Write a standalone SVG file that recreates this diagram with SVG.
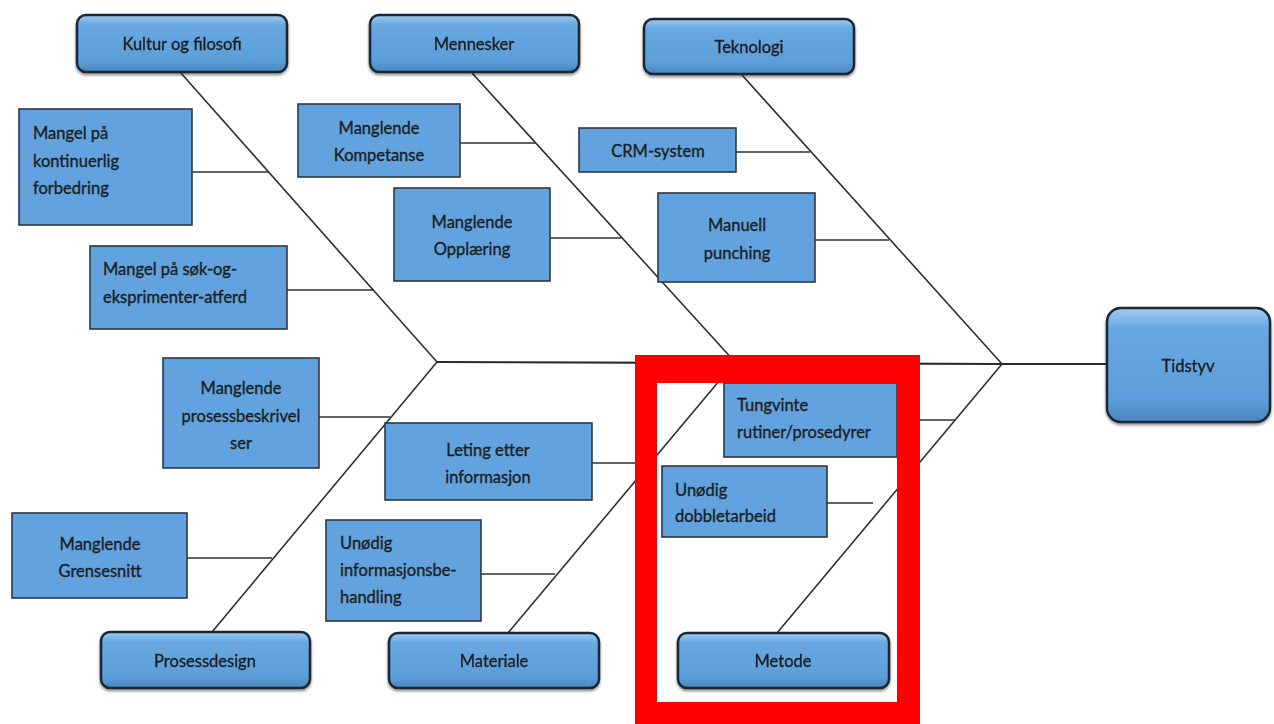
<svg xmlns="http://www.w3.org/2000/svg" width="1274" height="724" viewBox="0 0 1274 724">
  <defs>
    <linearGradient id="catFill" x1="0" y1="0" x2="0" y2="1">
      <stop offset="0" stop-color="#9fcbf2"/>
      <stop offset="0.18" stop-color="#68a8e2"/>
      <stop offset="0.8" stop-color="#5c9ed9"/>
      <stop offset="1" stop-color="#4a86bd"/>
    </linearGradient>
    <filter id="shadow" x="-10%" y="-10%" width="125%" height="135%">
      <feGaussianBlur in="SourceAlpha" stdDeviation="1.5"/>
      <feOffset dx="0" dy="2" result="off"/>
      <feComponentTransfer><feFuncA type="linear" slope="0.45"/></feComponentTransfer>
      <feMerge><feMergeNode/><feMergeNode in="SourceGraphic"/></feMerge>
    </filter>
  </defs>
  <style>
    .cat rect { fill: url(#catFill); stroke: #1d2630; stroke-width: 2.5; }
    .cause rect { fill: #62a3df; stroke: #2d3844; stroke-width: 1.6; }
    text { font-family: Lato, "Open Sans", "Liberation Sans", sans-serif; font-size: 16.5px; fill: #1b1f24; stroke: #1b1f24; stroke-width: 0.35; }
    .mid { text-anchor: middle; }
    .bone { stroke: #2f2f2f; stroke-width: 1.6; fill: none; }
    .spine { stroke: #2a2a2a; stroke-width: 2.2; fill: none; }
  </style>

  <rect width="1274" height="724" fill="#ffffff"/>

  <!-- fishbone skeleton -->
  <g id="connectors">
    <polyline class="spine" points="437,362 1002,364 1107,364"/>
    <line class="bone" x1="180" y1="72" x2="437" y2="362"/>
    <line class="bone" x1="212" y1="632" x2="437" y2="362"/>
    <line class="bone" x1="472" y1="73" x2="735" y2="362"/>
    <line class="bone" x1="508" y1="633" x2="735" y2="362"/>
    <line class="bone" x1="742" y1="75" x2="1002" y2="364"/>
    <line class="bone" x1="777" y1="633" x2="1002" y2="364"/>
    <!-- cause ribs -->
    <line class="bone" x1="190" y1="172" x2="268" y2="172"/>
    <line class="bone" x1="285" y1="290" x2="374" y2="290"/>
    <line class="bone" x1="318" y1="417" x2="390" y2="417"/>
    <line class="bone" x1="590" y1="463" x2="651" y2="463"/>
    <line class="bone" x1="186" y1="558" x2="272" y2="558"/>
    <line class="bone" x1="480" y1="574" x2="555" y2="574"/>
    <line class="bone" x1="458" y1="143" x2="535" y2="143"/>
    <line class="bone" x1="548" y1="238" x2="621" y2="238"/>
    <line class="bone" x1="733" y1="152" x2="810" y2="152"/>
    <line class="bone" x1="812" y1="240" x2="889" y2="240"/>
    <line class="bone" x1="897" y1="420" x2="955" y2="420"/>
    <line class="bone" x1="825" y1="503" x2="873" y2="503"/>
  </g>

  <!-- category heads -->
  <g id="kultur" class="cat" filter="url(#shadow)">
    <rect x="77" y="15" width="210" height="57" rx="9"/>
    <text class="mid" x="182" y="50">Kultur og filosofi</text>
  </g>
  <g id="mennesker" class="cat" filter="url(#shadow)">
    <rect x="370" y="15" width="209" height="57" rx="9"/>
    <text class="mid" x="474" y="50">Mennesker</text>
  </g>
  <g id="teknologi" class="cat" filter="url(#shadow)">
    <rect x="644" y="19" width="210" height="55" rx="9"/>
    <text class="mid" x="749" y="53">Teknologi</text>
  </g>
  <g id="prosessdesign" class="cat" filter="url(#shadow)">
    <rect x="101" y="632" width="209" height="56" rx="9"/>
    <text class="mid" x="205" y="667">Prosessdesign</text>
  </g>
  <g id="materiale" class="cat" filter="url(#shadow)">
    <rect x="389" y="633" width="210" height="55" rx="9"/>
    <text class="mid" x="494" y="667">Materiale</text>
  </g>
  <g id="metode" class="cat" filter="url(#shadow)">
    <rect x="678" y="633" width="211" height="55" rx="9"/>
    <text class="mid" x="783" y="667">Metode</text>
  </g>
  <g id="tidstyv" class="cat" filter="url(#shadow)">
    <rect x="1107" y="308" width="163" height="114" rx="14"/>
    <text class="mid" x="1188" y="372">Tidstyv</text>
  </g>

  <!-- causes -->
  <g id="kontinuerlig" class="cause">
    <rect x="19" y="109" width="173" height="116"/>
    <text x="33" y="139">Mangel på</text>
    <text x="33" y="167">kontinuerlig</text>
    <text x="33" y="194">forbedring</text>
  </g>
  <g id="sok-og-eksperimenter" class="cause">
    <rect x="90" y="246" width="197" height="83"/>
    <text x="103" y="275">Mangel på søk-og-</text>
    <text x="103" y="303">eksprimenter-atferd</text>
  </g>
  <g id="kompetanse" class="cause">
    <rect x="298" y="104" width="162" height="73"/>
    <text class="mid" x="379" y="134">Manglende</text>
    <text class="mid" x="379" y="161">Kompetanse</text>
  </g>
  <g id="opplaering" class="cause">
    <rect x="394" y="188" width="156" height="93"/>
    <text class="mid" x="472" y="228">Manglende</text>
    <text class="mid" x="472" y="255">Opplæring</text>
  </g>
  <g id="crm" class="cause">
    <rect x="579" y="128" width="157" height="44"/>
    <text class="mid" x="658" y="157">CRM-system</text>
  </g>
  <g id="punching" class="cause">
    <rect x="658" y="193" width="157" height="89"/>
    <text class="mid" x="737" y="231">Manuell</text>
    <text class="mid" x="737" y="259">punching</text>
  </g>
  <g id="prosessbeskrivelser" class="cause">
    <rect x="163" y="358" width="156" height="110"/>
    <text class="mid" x="241" y="394">Manglende</text>
    <text class="mid" x="241" y="422">prosessbeskrivel</text>
    <text class="mid" x="241" y="449">ser</text>
  </g>
  <g id="leting" class="cause">
    <rect x="385" y="423" width="207" height="77"/>
    <text class="mid" x="488" y="456">Leting etter</text>
    <text class="mid" x="488" y="483">informasjon</text>
  </g>
  <g id="grensesnitt" class="cause">
    <rect x="12" y="513" width="175" height="85"/>
    <text class="mid" x="100" y="550">Manglende</text>
    <text class="mid" x="100" y="577">Grensesnitt</text>
  </g>
  <g id="informasjonsbehandling" class="cause">
    <rect x="326" y="520" width="155" height="101"/>
    <text x="340" y="549">Unødig</text>
    <text x="340" y="576">informasjonsbe-</text>
    <text x="340" y="603">handling</text>
  </g>
  <g id="tungvinte" class="cause">
    <rect x="724" y="383" width="173" height="74"/>
    <text x="737" y="411">Tungvinte</text>
    <text x="737" y="438">rutiner/prosedyrer</text>
  </g>
  <g id="dobbeltarbeid" class="cause">
    <rect x="662" y="466" width="165" height="71"/>
    <text x="675" y="496">Unødig</text>
    <text x="675" y="522">dobbletarbeid</text>
  </g>

  <!-- highlight frame around the Metode branch -->
  <g id="highlight">
    <path fill="#ff0000" fill-rule="evenodd" d="M635,355 H920 V724 H635 Z M657,383 V702 H897 V383 Z"/>
  </g>
</svg>
